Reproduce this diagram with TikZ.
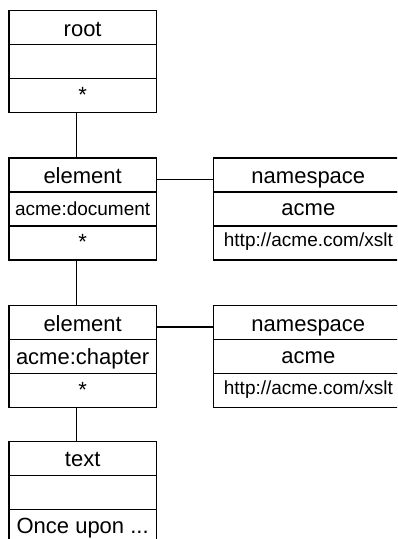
\documentclass[tikz,border=0pt]{standalone}
\usepackage{fontspec}
\setmainfont{Liberation Sans}
\begin{document}
\begin{tikzpicture}[x=1pt,y=-1pt,
  cell/.style={draw, line width=1.3pt, inner xsep=0pt, inner ysep=0pt,
    anchor=north west, text height=#1, text depth=34pt-#1,
    font=\fontsize{22}{26}\selectfont},
  cell/.default=25pt,
  small/.style={font=\fontsize{19}{22}\selectfont},
  elbox/.style={minimum width=147.4pt},
  nsbox/.style={minimum width=190pt},
  link/.style={draw, line width=1.3pt}]
\useasboundingbox (0,0) rectangle (397,539);
\clip (0,0) rectangle (397,539);

% root
\node[cell=26pt, elbox] (root1) at (8.3,9.5) {root};
\node[cell, elbox] (root2) at (8.3,43.5) {};
\node[cell=24pt, elbox] (root3) at (8.3,77.5) {*};

% first element and its namespace
\node[cell=26pt, elbox] (el1a) at (8.3,157.3) {element};
\node[cell=24pt, elbox, small] (el1b) at (8.3,191.3) {acme:document};
\node[cell=24pt, elbox] (el1c) at (8.3,225.3) {*};
\node[cell=26pt, nsbox] (ns1a) at (212.7,157.3) {namespace};
\node[cell=24pt, nsbox] (ns1b) at (212.7,191.3) {acme};
\node[cell=21pt, nsbox, small] (ns1c) at (212.7,225.3) {http://acme.com/xslt};

% second element and its namespace
\node[cell=26pt, elbox] (el2a) at (8.3,304.5) {element};
\node[cell=25pt, elbox] (el2b) at (8.3,338.5) {acme:chapter};
\node[cell=24pt, elbox] (el2c) at (8.3,372.5) {*};
\node[cell=26pt, nsbox] (ns2a) at (212.7,304.5) {namespace};
\node[cell=24pt, nsbox] (ns2b) at (212.7,338.5) {acme};
\node[cell=21pt, nsbox, small] (ns2c) at (212.7,372.5) {http://acme.com/xslt};

% text node
\node[cell=25pt, elbox] (txta) at (8.3,441) {text};
\node[cell, elbox] (txtb) at (8.3,475) {};
\node[cell=24pt, elbox] (txtc) at (8.3,509) {Once upon ...};

% connectors
\path[link] ([xshift=68pt]root3.south west) -- ([xshift=68pt]el1a.north west);
\path[link] ([xshift=68pt]el1c.south west) -- ([xshift=68pt]el2a.north west);
\path[link] ([xshift=68pt]el2c.south west) -- ([xshift=68pt]txta.north west);
\path[link] ([yshift=-22.5pt]el1a.north east) -- ([yshift=-22.5pt]ns1a.north west);
\path[link] ([yshift=-22.5pt]el2a.north east) -- ([yshift=-22.5pt]ns2a.north west);
\end{tikzpicture}
\end{document}
